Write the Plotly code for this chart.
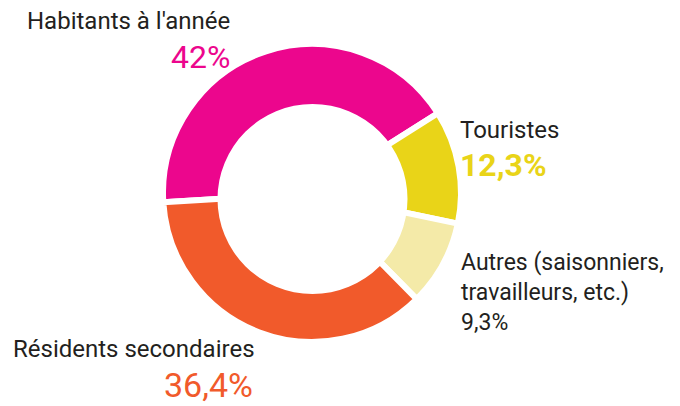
import plotly.graph_objects as go

W, H = 680, 406

labels = ["Habitants à l'année", "Touristes", "Autres (saisonniers, travailleurs, etc.)", "Résidents secondaires"]
values = [42, 12.3, 9.3, 36.4]
value_text = ["42%", "12,3%", "9,3%", "36,4%"]
colors = ["#EC068D", "#E9D418", "#F4EAA8", "#F15A2B"]

TEXT = "#231F20"
FONT = "Roboto"

# pie geometry (pixels)
cx, cy, r = 312, 193, 149
fig = go.Figure(go.Pie(
    labels=labels, values=values, sort=False, direction="clockwise",
    rotation=266.4, hole=0.5, textinfo="none", hoverinfo="label+value",
    marker=dict(colors=colors, line=dict(color="white", width=6)),
    domain=dict(x=[(cx - r) / W, (cx + r) / W], y=[(H - cy - r) / H, (H - cy + r) / H]),
    showlegend=False,
))

# white hole (slightly offset downward as in the reference)
hx, hy, hr = 312.5, 199, 95
fig.add_shape(type="circle", xref="paper", yref="paper", layer="above",
              x0=(hx - hr) / W, x1=(hx + hr) / W,
              y0=(H - hy - hr) / H, y1=(H - hy + hr) / H,
              fillcolor="white", line=dict(width=0))


def ann(text, x, y, xanchor, size, color, bold=False, align="left"):
    fig.add_annotation(
        text=f"<b>{text}</b>" if bold else text,
        xref="paper", yref="paper", x=x / W, y=(H - y) / H,
        xanchor=xanchor, yanchor="middle", align=align, showarrow=False,
        font=dict(family=FONT, size=size, color=color),
    )


ann(labels[0], 232, 21, "right", 24, TEXT)
ann(value_text[0], 232, 57, "right", 32, colors[0])
ann(labels[1], 458, 130, "left", 24, TEXT)
ann(value_text[1], 458, 165, "left", 32, colors[1], bold=True)
ann("Autres (saisonniers,<br>travailleurs, etc.)<br>" + value_text[2], 459, 292, "left", 23, TEXT)
ann(labels[3], 11, 349, "left", 24, TEXT)
ann(value_text[3], 255, 385, "right", 34, colors[3])

fig.update_layout(width=W, height=H, margin=dict(l=0, r=0, t=0, b=0),
                  paper_bgcolor="white", plot_bgcolor="white")
fig.write_html("out.html", config={"displayModeBar": False},
               post_script="document.body.style.margin='0';")
